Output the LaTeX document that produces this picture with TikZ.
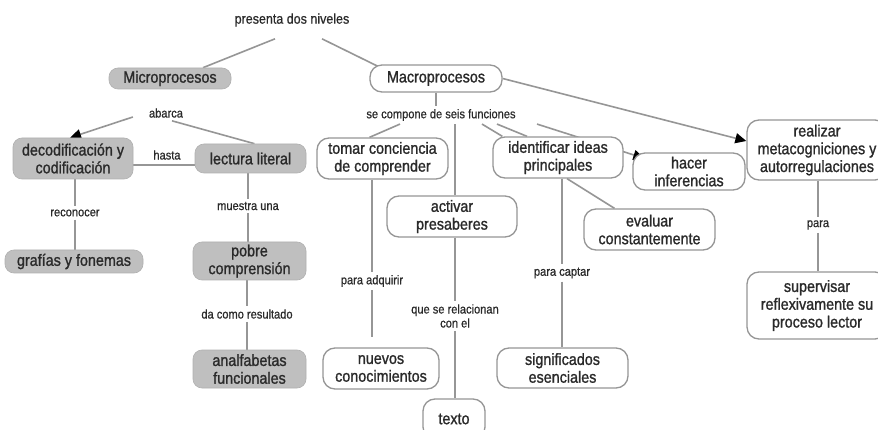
\documentclass[tikz,border=0pt]{standalone}
\usepackage{fontspec}
\setmainfont{Liberation Sans}[FakeStretch=0.9]
\newfontfamily\boxfam{Liberation Sans}[FakeStretch=0.88,FakeBold=1.2]
\newfontfamily\lblfam{Liberation Sans}[FakeStretch=0.88,FakeBold=0.7]
\usetikzlibrary{arrows.meta}
\definecolor{boxgray}{HTML}{BFBFBF}
\definecolor{edgegray}{HTML}{969696}
\definecolor{txtcol}{HTML}{2A2A2A}
\newcommand\boxfont{\boxfam\fontsize{16.3}{17.8}\selectfont}
\newcommand\lblfont{\lblfam\fontsize{12.6}{14}\selectfont}
\newcommand\presfont{\lblfam\fontsize{14.2}{16}\selectfont}
\pgfdeclarelayer{bg}
\pgfsetlayers{bg,main}
\begin{document}
\begin{tikzpicture}[x=1pt,y=-1pt,
  every node/.style={text=txtcol},
  gbox/.style={rounded corners=9pt, fill=boxgray, draw=boxgray!92!black, line width=0.6pt, align=center, inner sep=0pt, font=\boxfont},
  wbox/.style={rounded corners=12pt, fill=white, draw=edgegray, line width=1.3pt, align=center, inner sep=0pt, font=\boxfont},
  lbl/.style={font=\lblfont, inner sep=3pt, align=center},
  conn/.style={draw=edgegray, line width=1.6pt},
  arr/.style={conn, -{Triangle[length=11pt,width=10pt,color=black]}}
]
\useasboundingbox (0,0) rectangle (878,430);
% nodes
\node[lbl, font=\presfont] (pres) at (292,20) {presenta dos niveles};
\node[gbox, minimum width=122pt, minimum height=21pt] (micro) at (170,78.5) {Microprocesos};
\node[wbox, minimum width=132pt, minimum height=27pt] (macro) at (436,78.5) {Macroprocesos};
\node[lbl] (abarca) at (166,113) {abarca};
\node[gbox, minimum width=120pt, minimum height=41pt] (decod) at (73,158.5) {decodificación y\\codificación};
\node[lbl] (hasta) at (167,155) {hasta};
\node[gbox, minimum width=111pt, minimum height=29pt] (lect) at (250.5,158.5) {lectura literal};
\node[lbl] (reco) at (75,213) {reconocer};
\node[gbox, minimum width=138pt, minimum height=23pt] (graf) at (74,261.5) {grafías y fonemas};
\node[lbl] (muestra) at (248,206) {muestra una};
\node[gbox, minimum width=113pt, minimum height=38pt] (pobre) at (249.5,261) {pobre\\comprensión};
\node[lbl] (dacomo) at (247,314) {da como resultado};
\node[gbox, minimum width=113pt, minimum height=38pt] (analf) at (249.5,369) {analfabetas\\funcionales};
\node[lbl] (sc) at (441,115) {se compone de seis funciones};
\node[wbox, minimum width=131pt, minimum height=41pt] (tomar) at (382.5,158.5) {tomar conciencia\\de comprender};
\node[wbox, minimum width=130pt, minimum height=41pt] (activ) at (452,216.5) {activar\\presaberes};
\node[wbox, minimum width=130pt, minimum height=41pt] (ident) at (558,157.5) {identificar ideas\\principales};
\node[wbox, minimum width=112pt, minimum height=37pt] (hacer) at (689,171.5) {hacer\\inferencias};
\node[wbox, minimum width=131pt, minimum height=41pt] (eval) at (649.5,229.5) {evaluar\\constantemente};
\node[wbox, minimum width=140pt, minimum height=60pt] (real) at (817,150) {realizar\\metacogniciones y\\autorregulaciones};
\node[lbl] (para) at (818,225) {para};
\node[wbox, minimum width=140pt, minimum height=67pt] (superv) at (817,305.5) {supervisar\\reflexivamente su\\proceso lector};
\node[lbl] (padq) at (372,281) {para adquirir};
\node[wbox, minimum width=116pt, minimum height=41pt] (nuevos) at (381,368.5) {nuevos\\conocimientos};
\node[lbl] (qsr) at (455,316) {que se relacionan\\con el};
\node[wbox, minimum width=62pt, minimum height=40pt] (texto) at (454,419) {texto};
\node[lbl] (pcapt) at (562,273) {para captar};
\node[wbox, minimum width=131pt, minimum height=40pt] (signif) at (562.5,368) {significados\\esenciales};
% connectors
\begin{pgfonlayer}{bg}
\fill[white] (0,0) rectangle (878,430);
\draw[conn] ([xshift=-17pt,yshift=-9pt]pres.south) -- ([xshift=33pt]micro.north);
\draw[conn] ([xshift=30pt,yshift=-9pt]pres.south) -- ([xshift=-56pt,yshift=-3pt]macro.north);
\draw[conn] (macro.south) -- (macro.south |- sc.north);
\draw[arr] ([xshift=-13pt,yshift=-4pt]abarca.west) -- ([xshift=-3pt]decod.north);
\draw[conn] ([xshift=6pt]abarca.south) -- ([xshift=4pt]lect.north);
\draw[conn] ([yshift=-6.5pt]decod.east) -- ([yshift=-6.5pt]lect.west);
\draw[conn] (reco |- decod.south) -- (reco.north);
\draw[conn] (reco.south) -- (reco.south |- graf.north);
\draw[conn] (muestra |- lect.south) -- (muestra.north);
\draw[conn] (muestra.south) -- (muestra.south |- pobre.north);
\draw[conn] (dacomo |- pobre.south) -- (dacomo.north);
\draw[conn] (dacomo.south) -- (dacomo.south |- analf.north);
\draw[conn] ([xshift=-41pt]sc.south) -- ([xshift=-13pt]tomar.north);
\draw[conn] ([xshift=14pt]sc.south) -- ([xshift=14pt]sc.south |- activ.north);
\draw[conn] ([xshift=41pt]sc.south) -- ([xshift=10pt]ident.north west);
\draw[conn] ([xshift=56pt]sc.south) -- ([xshift=-31pt]ident.north);
\draw[arr] ([xshift=96pt]sc.south) -- ([xshift=12pt,yshift=-6pt]hacer.north west);
\draw[conn] ([xshift=9pt]ident.south) -- ([xshift=-35pt]eval.north);
\draw[arr] (macro.east) -- ([yshift=9pt]real.west);
\draw[conn] (padq |- tomar.south) -- (padq.north);
\draw[conn, shorten >=10pt] (padq.south) -- (padq.south |- nuevos.north);
\draw[conn] (qsr |- activ.south) -- (qsr.north);
\draw[conn] (qsr.south) -- (qsr.south |- texto.north);
\draw[conn] (pcapt |- ident.south) -- (pcapt.north);
\draw[conn] (pcapt.south) -- (pcapt.south |- signif.north);
\draw[conn] (para |- real.south) -- (para.north);
\draw[conn] (para.south) -- (para.south |- superv.north);
\end{pgfonlayer}
\end{tikzpicture}
\end{document}
